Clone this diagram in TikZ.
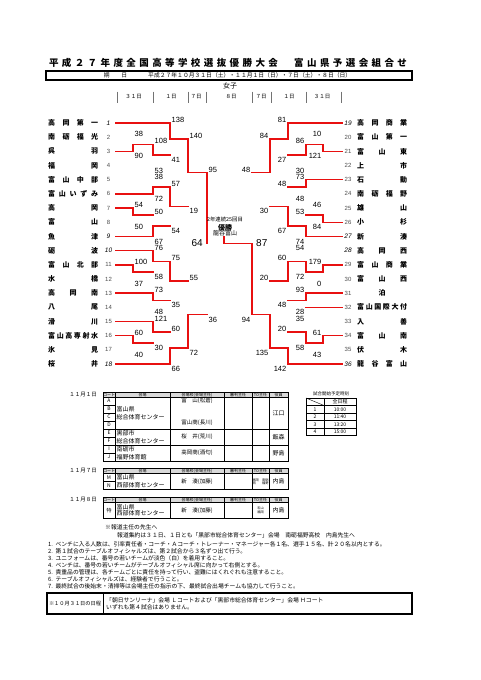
\documentclass[tikz,border=0pt]{standalone}
\usepackage{fontspec}
\setmainfont{Noto Sans CJK JP}
\newfontfamily\digfont{Liberation Sans}
\usetikzlibrary{calc, backgrounds}

\definecolor{winred}{RGB}{232,16,16}
\newcommand\fsz[1]{\fontsize{#1}{#1}\selectfont}
% spread the letters of a name over a given width
\def\sprend{sprend}
\def\sprA#1{#1\sprB}
\def\sprB#1{\ifx#1\sprend\else\hfil#1\expandafter\sprB\fi}
\newcommand\spr[2]{\hbox to #1{\expandafter\sprA#2\sprend}}

\begin{document}
\begin{tikzpicture}[x=1pt, y=-1pt,
  win/.style={draw=winred, line width=1.5pt, line cap=rect},
  no/.style={draw=none},
  bline/.style={draw=black!70, line width=0.55pt},
  bar/.style={draw=black!55, line width=0.5pt},
  team/.style={anchor=west, inner sep=0pt, font=\bfseries\fsz{7}},
  num/.style={inner sep=0pt, font=\digfont\fsz{6}, text=black!70},
  seed/.style={inner sep=0pt, font=\digfont\itshape\fsz{6.5}},
  score/.style={inner sep=0.3pt, font=\digfont\fsz{7.5}},
  scL/.style={anchor=west, xshift=1.2pt},
  scR/.style={anchor=east, xshift=-1.2pt},
  fscore/.style={inner sep=0pt, font=\digfont\fsz{10}},
  ttl/.style={inner sep=0pt, font=\bfseries\fsz{9.5}},
  dsmall/.style={inner sep=0pt, font=\fsz{5.8}},
  day/.style={inner sep=0pt, font=\fsz{5.5}},
  tbl/.style={draw=black, line width=0.9pt},
  tline/.style={draw=black, line width=0.4pt},
  thead/.style={inner sep=0pt, font=\fsz{4}},
  tcell/.style={inner sep=0pt, font=\fsz{5}},
  tven/.style={anchor=west, inner sep=0pt, font=\fsz{6}},
  tsch/.style={inner sep=0pt, font=\fsz{5.5}},
  tname/.style={inner sep=0pt, font=\fsz{6}},
  tto/.style={inner sep=0pt, align=center, font=\fsz{3.2}},
  note/.style={anchor=west, inner sep=0pt, font=\fsz{5.8}}
]
\useasboundingbox[fill=white] (0,0) rectangle (481,680);

% 表題
\node[ttl] (title) at (228,63) {\spr{358pt}{平成２７年度全国高等学校選抜優勝大会　富山県予選会組合せ}};
\draw[line width=1.1pt] (46,71) rectangle (412,80);
\node[dsmall] (kijitu) at (115.5,75.5) {期　　日};
\node[dsmall, anchor=west] (dates) at (148,75.5) {平成２７年１０月３１日（土）・１１月１日（日）・７日（土）・８日（日）};
\node[day, font=\fsz{7}] (joshi) at (230,85.5) {女子};

% 日付の列
\foreach \bx in {117,153,188,206,252,271,306,341}
  \draw[bar] (\bx,91.5) -- (\bx,102.5);
\foreach \dx/\dd [count=\k] in {133.5/３１日,171/１日,196/７日,231/８日,261/７日,289/１日,322/３１日}
  \node[day] (d\k) at (\dx,97) {\dd};

% チーム (左)
\foreach \i/\nm/\st in {1/高岡第一/seed, 2/南砺福光/num, 3/呉羽/num, 4/福岡/num,
    5/富山中部/num, 6/富山いずみ/num, 7/高岡/num, 8/富山/num, 9/魚津/seed,
    10/砺波/seed, 11/富山北部/num, 12/水橋/num, 13/高岡南/num, 14/八尾/num,
    15/滑川/num, 16/富山高専射水/num, 17/氷見/num, 18/桜井/seed}{
  \pgfmathsetmacro\yy{123+(\i-1)*14.18}
  \node[team] (n\i) at (48,\yy) {\spr{50pt}{\nm}};
  \node[\st] (k\i) at (108.5,\yy) {\i};
  \coordinate (s\i) at (116,\yy);
}
% チーム (右)
\foreach \i/\nm/\st in {19/高岡商業/seed, 20/富山第一/num, 21/富山東/num, 22/上市/num,
    23/石動/num, 24/南砺福野/num, 25/雄山/num, 26/小杉/num, 27/新湊/seed,
    28/高岡西/seed, 29/富山商業/num, 30/富山西/num, 31/\hfil 泊\hfil/num,
    32/富山国際大付/num, 33/入善/num, 34/富山南/num, 35/伏木/num, 36/龍谷富山/seed}{
  \pgfmathsetmacro\yy{123+(\i-19)*14.18}
  \node[team] (n\i) at (357,\yy) {\spr{50pt}{\nm}};
  \node[\st] (k\i) at (348,\yy) {\i};
  \coordinate (s\i) at (342,\yy);
}

% 試合: 名前/x/上/下/上得点/下得点/勝者(a,b)/敗者の線
\foreach \gm/\xx/\pa/\pb/\ssa/\ssb/\ww/\lh in {
    A1/133/s2/s3/38/90/b/no, A2/153/A1/s4/108/53/a/no, A3/170/s1/A2/138/41/a/win,
    A4/153/s5/s6/38/72/b/no, A5/133/s7/s8/54/50/a/no, A6/153/A5/s9/50/67/b/win,
    A7/170/A4/A6/57/54/a/win, A8/188/A3/A7/140/19/a/win,
    A9/133/s11/s12/100/37/a/no, A10/153/s10/A9/76/58/a/win, A11/153/s13/s14/73/48/a/no,
    A12/170/A10/A11/75/35/a/win, A13/133/s16/s17/60/40/a/no, A14/153/s15/A13/121/30/a/win,
    A15/170/A14/s18/60/66/b/win, A16/188/A12/A15/55/72/b/win, A17/207/A8/A16/95/36/a/win,
    B1/323/s20/s21/10/121/b/no, B2/306/B1/s22/86/30/a/no, B3/288/s19/B2/81/27/a/win,
    B4/306/s23/s24/73/48/a/no, B5/323/s25/s26/46/84/b/no, B6/306/B5/s27/53/74/b/win,
    B7/288/B4/B6/48/67/b/win, B8/270/B3/B7/84/30/a/win,
    B9/323/s29/s30/179/0/a/no, B10/306/s28/B9/54/72/b/no, B11/306/s31/s32/93/28/a/win,
    B12/288/B10/B11/60/48/a/win, B13/323/s34/s35/61/43/a/no, B14/306/s33/B13/35/58/b/no,
    B15/288/B14/s36/20/142/b/win, B16/270/B12/B15/20/135/b/win, B17/252/B8/B16/48/94/b/win}{
  \coordinate (\gm x) at (\xx,0);
  \coordinate (\gm) at ($(\pa -| \gm x)!0.5!(\pb -| \gm x)$);
  \if a\ww \edef\wsrc{\pa}\edef\lsrc{\pb}\else\edef\wsrc{\pb}\edef\lsrc{\pa}\fi
  \ifdim\xx pt<229pt \def\sd{scL}\else\def\sd{scR}\fi
  \begin{pgfonlayer}{background}
    \draw[bline] (\pa) -- (\pa -| \gm x) -- (\pb -| \gm x) -- (\pb);
  \end{pgfonlayer}
  \draw[\lh] (\lsrc) -- (\lsrc -| \gm x);
  \draw[win] (\wsrc) -- (\wsrc -| \gm x) -- (\gm);
  \node[score,\sd,yshift=3pt] (\gm p) at (\pa -| \gm x) {\ssa};
  \node[score,\sd,yshift=-5pt] (\gm q) at (\pb -| \gm x) {\ssb};
}

% 決勝
\coordinate (fx) at (224,0);
\coordinate (fc) at (A17 -| fx);
\node[inner sep=0pt, font=\fsz{5.4}] (champyr) at (225,219.5) {2年連続25回目};
\node[inner sep=0pt, font=\bfseries\fsz{7}] (champwin) at (225,227.5) {優勝};
\node[inner sep=0.6pt, font=\fsz{6}] (champteam) at (225,233.5) {龍谷富山};
\begin{pgfonlayer}{background}
  \draw[bline] (A17) -- (fc);
\end{pgfonlayer}
\draw[win] (B17) -- (fc) -- (champteam.south -| fc);
\node[fscore, anchor=east] (lfin) at ([xshift=-4pt]A17) {64};
\node[fscore, anchor=west] (rfin) at ([xshift=4pt]B17) {87};

% 11月1日
\node[day] (day1) at (83,394.75) {１１月１日};
\filldraw[tbl, fill=black!15] (103,392.5) rectangle (288,397);
\draw[tbl] (103,392.5) rectangle (288,461);
\foreach \cx in {115,170,224,252,269} \draw[tline] (\cx,392.5) -- (\cx,461);
\draw[tbl] (103,429) -- (288,429);
\draw[tbl] (103,445) -- (288,445);
\foreach \ry in {405,413,421,437,453} \draw[tline] (103,\ry) -- (115,\ry);
\foreach \cx/\hdr [count=\k] in {109/コート,142.5/会場,197/会場校(会場主任),238/審判主任,260.5/TO主任,278.5/役員}
  \node[thead] (ha\k) at (\cx,394.75) {\hdr};
\foreach \ct [count=\k] in {A,B,C,D,E,F,I,J}
  \node[tcell] (c\ct) at (109,{393+\k*8}) {\ct};
\node[tven] (v1a) at (116.5,409) {富山県};
\node[tven] (v1b) at (116.5,417) {総合体育センター};
\node[tsch] (sc1a) at (197,401) {富　山(松倉)};
\node[tsch] (sc1b) at (197,423) {富山商(長川)};
\node[tname] (of1) at (278.5,413) {江口};
\node[tven] (v2a) at (116.5,433) {黒部市};
\node[tven] (v2b) at (116.5,441) {総合体育センター};
\node[tsch] (sc2) at (197,437) {桜　井(荒川)};
\node[tname] (of2) at (278.5,437) {飯森};
\node[tven] (v3a) at (116.5,449) {南砺市};
\node[tven] (v3b) at (116.5,457) {福野体育館};
\node[tsch] (sc3) at (197,453) {高岡商(酒匂)};
\node[tname] (of3) at (278.5,453) {野島};

% 試合開始予定時刻
\node[thead, font=\fsz{4.5}] (jikoku) at (331,394) {試合開始予定時刻};
\draw[tbl] (306,398) rectangle (356,435.5);
\draw[tline] (324,398) -- (324,435.5);
\draw[tline] (306,398) -- (324,405.5);
\foreach \ry in {405.5,413,420.5,428} \draw[tline] (306,\ry) -- (356,\ry);
\node[tcell] (zennittei) at (340,401.75) {全日程};
\foreach \tm [count=\k] in {10:00,11:40,13:20,15:00}{
  \node[tcell] (tn\k) at (315,{401.75+\k*7.5}) {\k};
  \node[tcell] (tt\k) at (340,{401.75+\k*7.5}) {\tm};
}

% 11月7日
\node[day] (day2) at (83,471) {１１月７日};
\filldraw[tbl, fill=black!15] (103,468.5) rectangle (288,473.5);
\draw[tbl] (103,468.5) rectangle (288,489.5);
\foreach \cx in {115,170,224,252,269} \draw[tline] (\cx,468.5) -- (\cx,489.5);
\draw[tline] (103,481.5) -- (115,481.5);
\foreach \cx/\hdr [count=\k] in {109/コート,142.5/会場,197/会場校(会場主任),238/審判主任,260.5/TO主任,278.5/役員}
  \node[thead] (hb\k) at (\cx,471) {\hdr};
\node[tcell] (cM) at (109,477.5) {M};
\node[tcell] (cN) at (109,485.5) {N};
\node[tven] (v4a) at (116.5,477.5) {富山県};
\node[tven] (v4b) at (116.5,485.5) {西部体育センター};
\node[tsch] (sc4) at (197,481.5) {新　湊(加藤)};
\node[tto] (to4) at (260.5,481.5) {高岡　南砺\\西　　福野};
\node[tname] (of4) at (278.5,481.5) {内島};

% 11月8日
\node[day] (day3) at (83,500) {１１月８日};
\filldraw[tbl, fill=black!15] (103,497.5) rectangle (288,502.5);
\draw[tbl] (103,497.5) rectangle (288,518);
\foreach \cx in {115,170,224,252,269} \draw[tline] (\cx,497.5) -- (\cx,518);
\foreach \cx/\hdr [count=\k] in {109/コート,142.5/会場,197/会場校(会場主任),238/審判主任,260.5/TO主任,278.5/役員}
  \node[thead] (hc\k) at (\cx,500) {\hdr};
\node[tcell] (cT) at (109,510.25) {特};
\node[tven] (v5a) at (116.5,507) {富山県};
\node[tven] (v5b) at (116.5,513.5) {西部体育センター};
\node[tsch] (sc5) at (197,510.25) {新　湊(加藤)};
\node[tto] (to5) at (260.5,510.25) {石山\\福岡};
\node[tname] (of5) at (278.5,510.25) {内島};

% 注意事項
\node[note] (memo0) at (105,527) {※報道主任の先生へ};
\node[note] (memo1) at (117,535) {報道集約は３１日、１日とも「黒部市総合体育センター」会場　南砺福野高校　内島先生へ};
\foreach \rtx [count=\k] in {ベンチに入る人数は、引率責任者・コーチ・Ａコーチ・トレーナー・マネージャー各１名、選手１５名、計２０名以内とする。,
    第１試合のテーブルオフィシャルズは、第２試合から３名ずつ出て行う。,
    ユニフォームは、番号の若いチームが淡色（白）を着用すること。,
    ベンチは、番号の若いチームがテーブルオフィシャル席に向かって右側とする。,
    貴重品の管理は、各チームごとに責任を持って行い、盗難にはくれぐれも注意すること。,
    テーブルオフィシャルズは、経験者で行うこと。,
    最終試合の後始末・清掃等は会場主任の指示の下、最終試合出場チームも協力して行うこと。}
  \node[note] (rule\k) at (48,{537+\k*7}) {\k.\ \ \rtx};

\draw[line width=1.3pt] (47,593) rectangle (412,614);
\draw[line width=0.9pt] (103,593) -- (103,614);
\node[note, anchor=center, font=\fsz{5.2}] (oct) at (75,603.5) {※１０月３１日の日程};
\node[note] (octa) at (106,600) {「朝日サンリーナ」会場 Ｌコートおよび「黒部市総合体育センター」会場 Ｈコート};
\node[note] (octb) at (106,607.5) {いずれも第４試合はありません。};
\end{tikzpicture}
\end{document}
